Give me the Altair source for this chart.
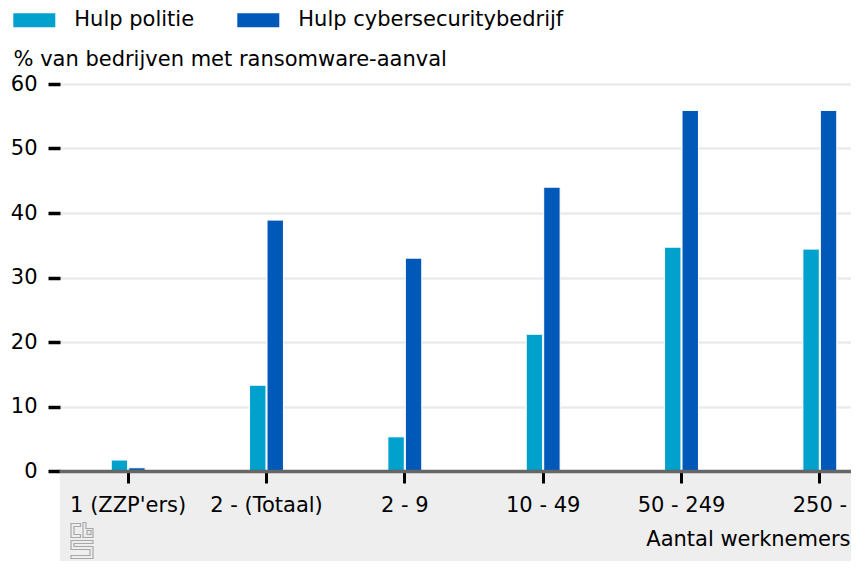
import altair as alt
import pandas as pd
from urllib.parse import quote

categories = ["1 (ZZP'ers)", "2 - (Totaal)", "2 - 9", "10 - 49", "50 - 249", "250 -"]
series = ["Hulp politie", "Hulp cybersecuritybedrijf"]
politie = [1.7, 13.3, 5.3, 21.2, 34.7, 34.4]
cyber = [0.5, 38.9, 33.0, 44.0, 55.9, 55.9]
colors = ["#00a1cd", "#0058b8"]
y_ticks = [0, 10, 20, 30, 40, 50, 60]

rows = []
for c, p, s in zip(categories, politie, cyber):
    rows.append({"cat": c, "reeks": series[0], "waarde": p})
    rows.append({"cat": c, "reeks": series[1], "waarde": s})
df = pd.DataFrame(rows)

# total chart size 843 x 553 so the page does not overflow the 859x569 window
PAD_L, PAD_T, PAD_B = 52, 76, 90
W, H = 791, 387
FONT = "DejaVu Sans"
FS = 21

# small grey outline logo (decoration)
logo_svg = (
    "<svg xmlns='http://www.w3.org/2000/svg' width='25' height='37' viewBox='0 0 25 37'>"
    "<g fill='none' stroke='#a8a8a8' stroke-width='1.2'>"
    "<path d='M11,1.5 H1.5 V15.5 H11 V12.5 H4.5 V4.5 H11 Z'/>"
    "<path d='M13.5,0.5 V15.5 H23.5 V6.5 H16.5 V0.5 Z'/>"
    "<rect x='17.5' y='8.5' width='4' height='4'/>"
    "<path d='M1.5,18.5 H23.5 V21.5 H4.5 V24.5 H23.5 V36.5 H1.5 V33.5 H20.5 V27.5 H1.5 Z'/>"
    "</g></svg>"
)
logo_url = "data:image/svg+xml;charset=utf-8," + quote(logo_svg)

band = alt.Chart(pd.DataFrame({"d": [0]})).mark_rect(color="#eeeeee").encode(
    x=alt.value(0), x2=alt.value(W), y=alt.value(H), y2=alt.value(H + PAD_B)
)

logo = alt.Chart(pd.DataFrame({"d": [0]})).mark_image(
    width=25, height=37, align="left", baseline="top"
).encode(x=alt.value(9.5), y=alt.value(H + PAD_B - 39), url=alt.value(logo_url))

bars = alt.Chart(df).mark_bar(stroke="white", strokeWidth=1).encode(
    x=alt.X(
        "cat:N",
        sort=categories,
        scale=alt.Scale(range=[-1, 829], paddingInner=0.755, paddingOuter=0.3775),
        axis=alt.Axis(
            title="Aantal werknemers",
            labelAngle=0,
            labelFontSize=FS,
            labelColor="black",
            labelPadding=11,
            domainColor="#666666",
            domainWidth=3.5,
            tickColor="black",
            tickSize=12,
            tickWidth=3,
            grid=False,
            titleFontSize=FS,
            titleFontWeight="normal",
            titleColor="black",
            titleX=W - 1,
            titleY=74,
            titleAlign="right",
            titleBaseline="alphabetic",
            zindex=1,
        ),
    ),
    xOffset=alt.XOffset("reeks:N", sort=series, scale=alt.Scale(paddingInner=0.06)),
    y=alt.Y(
        "waarde:Q",
        scale=alt.Scale(domain=[0, 60], nice=False),
        axis=alt.Axis(
            title="% van bedrijven met ransomware-aanval",
            values=y_ticks,
            labelFontSize=FS,
            labelColor="black",
            labelPadding=11,
            domain=False,
            tickColor="black",
            tickSize=12,
            tickWidth=3.5,
            gridColor="#ebebeb",
            gridWidth=2.5,
            titleAngle=0,
            titleX=-47,
            titleY=-19,
            titleAlign="left",
            titleBaseline="alphabetic",
            titleFontSize=FS,
            titleFontWeight="normal",
            titleColor="black",
            zindex=0,
        ),
    ),
    color=alt.Color(
        "reeks:N",
        sort=series,
        scale=alt.Scale(domain=series, range=colors),
        legend=alt.Legend(
            title=None,
            orient="none",
            direction="horizontal",
            legendX=-46.7,
            legendY=-84.7,
            symbolType="M-1,-0.3333H1V0.3333H-1Z",
            symbolSize=1764,
            symbolStrokeWidth=0,
            symbolOpacity=1,
            labelFontSize=FS,
            labelColor="black",
            labelOffset=19,
            columnPadding=43,
            labelLimit=400,
        ),
    ),
)

chart = alt.layer(band, logo, bars).properties(
    width=W,
    height=H,
    autosize=alt.AutoSizeParams(type="none"),
    padding={"left": PAD_L, "top": PAD_T, "right": 0, "bottom": PAD_B},
    background="white",
).configure(font=FONT).configure_view(stroke=None)

chart.save("out.html", embed_options={"renderer": "svg", "actions": False})
